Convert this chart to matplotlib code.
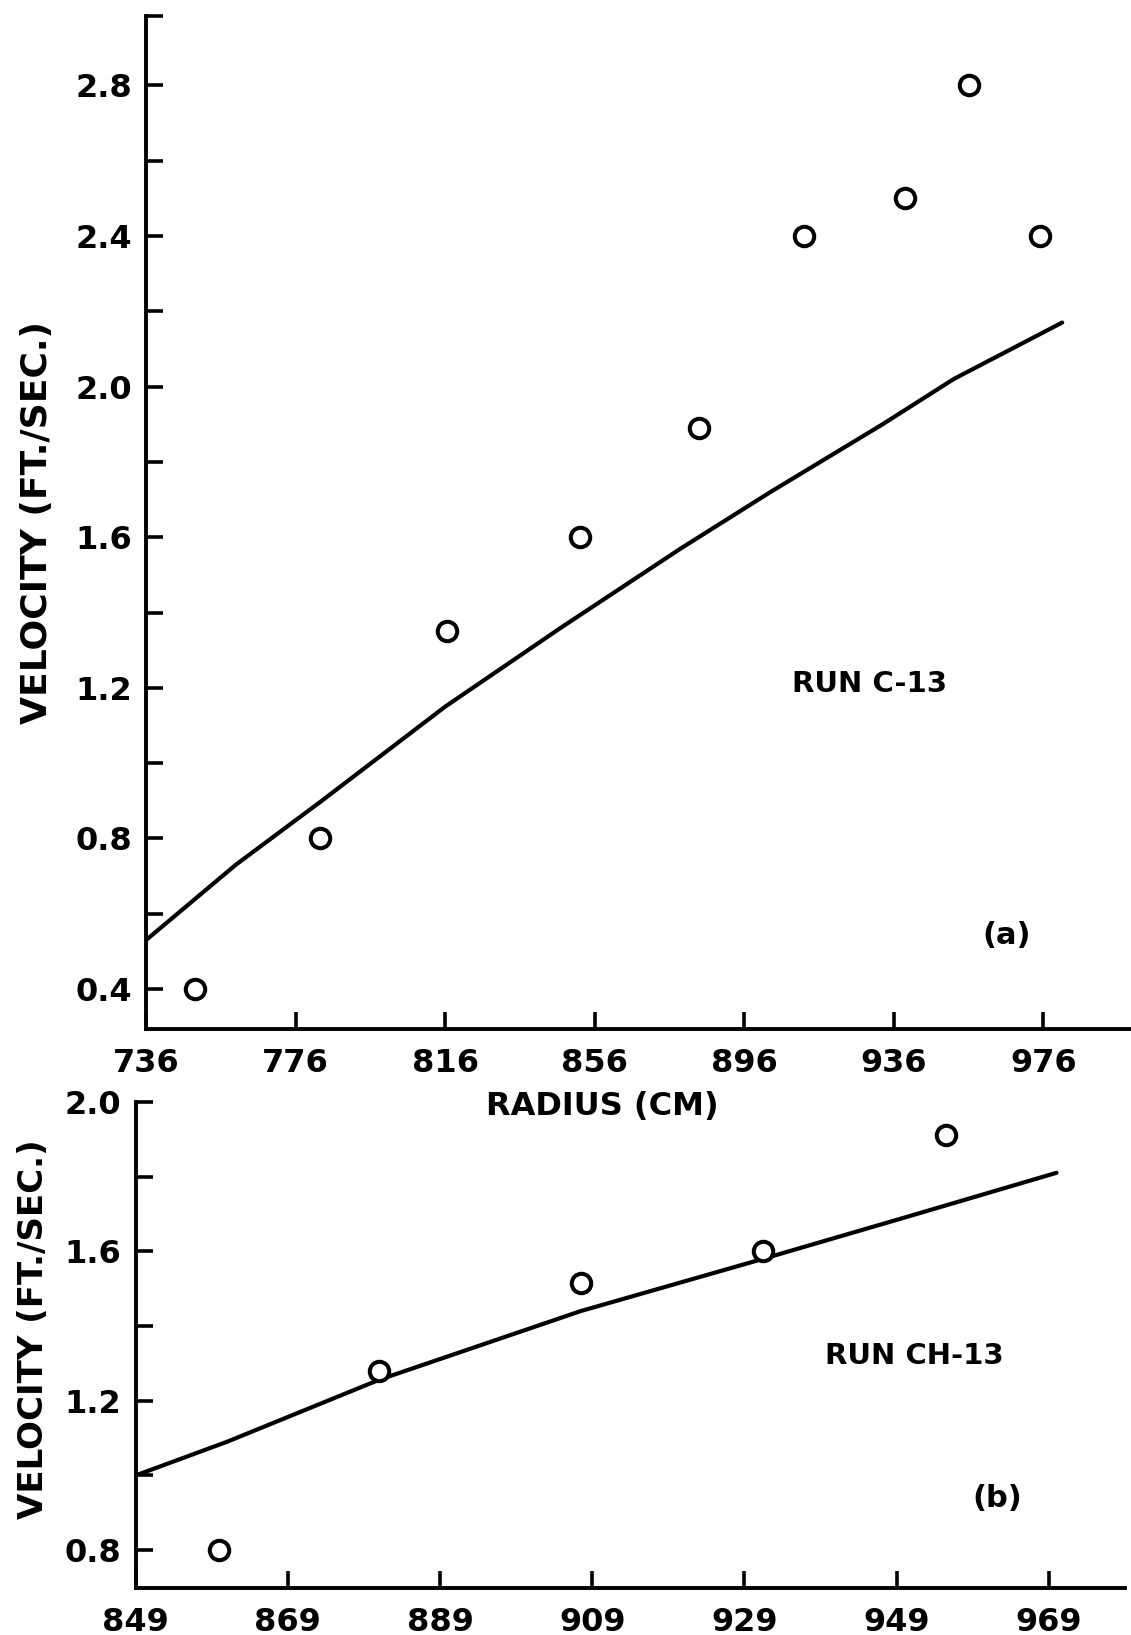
import numpy as np
import matplotlib.pyplot as plt

# Run C-13, panel (a)
radius_a = [749, 782.5, 816.5, 852, 884, 912, 939, 956, 975]
velocity_a = [0.40, 0.80, 1.35, 1.60, 1.89, 2.40, 2.50, 2.80, 2.40]
curve_radius_a = [736, 760, 783, 816, 847, 879, 903, 933, 952, 981]
curve_velocity_a = [0.53, 0.73, 0.90, 1.15, 1.36, 1.57, 1.72, 1.90, 2.02, 2.17]
xticks_a = [736, 776, 816, 856, 896, 936, 976]

# Run CH-13, panel (b)
radius_b = [860, 881, 907.5, 931.5, 955.5]
velocity_b = [0.80, 1.28, 1.515, 1.60, 1.91]
curve_radius_b = [849, 861, 881, 907.5, 931.5, 950, 970]
curve_velocity_b = [1.00, 1.09, 1.256, 1.44, 1.58, 1.69, 1.81]
xticks_b = [849, 869, 889, 909, 929, 949, 969]

plt.rcParams['font.family'] = ['DejaVu Sans']
plt.rcParams['font.weight'] = 'bold'

W, H = 1131, 1635
fig = plt.figure(figsize=(W / 100, H / 100), dpi=100)


def px_axes(left, top, right, bottom):
    return fig.add_axes([left / W, 1 - bottom / H, (right - left) / W, (bottom - top) / H])


def style(ax, xticks, yticks, ylabels):
    for s in ['top', 'right']:
        ax.spines[s].set_visible(False)
    for s in ['left', 'bottom']:
        ax.spines[s].set_linewidth(2.8)
    ax.set_xticks(xticks)
    ax.set_xticklabels([str(t) for t in xticks])
    ax.set_yticks(yticks)
    ax.set_yticklabels(ylabels)
    ax.tick_params(axis='both', direction='in', length=12, width=2.6, labelsize=23)
    ax.tick_params(axis='x', pad=14)
    ax.tick_params(axis='y', pad=10)
    ax.set_facecolor('white')


# --- panel (a)
ax1 = px_axes(146, 16, 1131, 1029)
ax1.plot(curve_radius_a, curve_velocity_a, color='black', lw=3, solid_capstyle='round')
ax1.plot(radius_a, velocity_a, 'o', ms=14, mfc='white', mec='black', mew=2.9, clip_on=False)
ax1.set_xlim(736, 999.4)
ax1.set_ylim(0.294, 2.984)
yt1 = list(np.round(np.arange(0.4, 2.81, 0.2), 1)) + [2.984]
yl1 = [f'{v:.1f}' if abs(v * 10 % 4) < 1e-6 else '' for v in yt1[:-1]] + ['']
style(ax1, xticks_a, yt1, yl1)
ax1.text(929.6, 1.21, 'RUN C-13', ha='center', va='center', fontsize=21)
ax1.text(966.2, 0.543, '(a)', ha='center', va='center', fontsize=22)

# --- panel (b)
ax2 = px_axes(135.5, 1101.8, 1125, 1587.6)
ax2.plot(curve_radius_b, curve_velocity_b, color='black', lw=3, solid_capstyle='round')
ax2.plot(radius_b, velocity_b, 'o', ms=14, mfc='white', mec='black', mew=2.9, clip_on=False)
ax2.set_xlim(849, 979)
ax2.set_ylim(0.70, 2.0)
yt2 = list(np.round(np.arange(0.8, 2.01, 0.2), 1))
yl2 = [f'{v:.1f}' if abs(v * 10 % 4) < 1e-6 else '' for v in yt2]
style(ax2, xticks_b, yt2, yl2)
ax2.text(951.3, 1.319, 'RUN CH-13', ha='center', va='center', fontsize=21)
ax2.text(962.2, 0.939, '(b)', ha='center', va='center', fontsize=22)

# axis titles
fig.text(602 / W, 1 - 1106 / H, 'RADIUS (CM)', ha='center', va='center', fontsize=23)
fig.text(37 / W, 1 - 522 / H, 'VELOCITY (FT./SEC.)', ha='center', va='center',
         rotation=90, fontsize=26)
fig.text(34 / W, 1 - 1329 / H, 'VELOCITY (FT./SEC.)', ha='center', va='center',
         rotation=90, fontsize=24.5)

fig.savefig('out.png', dpi=100, facecolor='white')
